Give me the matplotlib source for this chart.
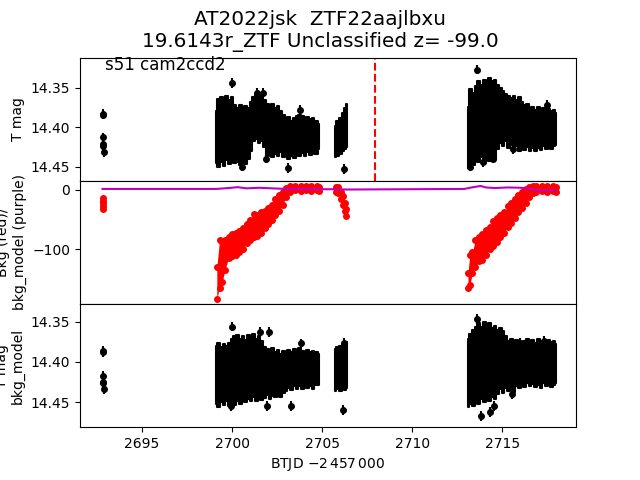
import matplotlib
matplotlib.use('Agg')
import matplotlib.pyplot as plt
import numpy as np

# --- light curve, T mag (top panel): band envelopes
t_a = [2692.80, 2692.80, 2692.82, 2692.83, 2692.85, 2692.86]
mag_a = [14.384, 14.383, 14.413, 14.421, 14.424, 14.432]

t_b = [2699.10, 2699.25, 2699.40, 2699.55, 2699.70, 2699.85, 2700.00, 2700.15,
       2700.30, 2700.45, 2700.60, 2700.75, 2700.90, 2701.05, 2701.20, 2701.35,
       2701.50, 2701.65, 2701.80, 2701.95, 2702.10, 2702.25, 2702.40, 2702.55,
       2702.70, 2702.85, 2703.00, 2703.15, 2703.30, 2703.45, 2703.60, 2703.75,
       2703.90, 2704.05, 2704.20, 2704.35, 2704.50, 2704.65, 2704.85]
top_b = [14.380, 14.364, 14.362, 14.366, 14.360, 14.366, 14.362, 14.372,
         14.376, 14.372, 14.377, 14.373, 14.376, 14.368, 14.362, 14.358,
         14.362, 14.360, 14.366, 14.370, 14.374, 14.371, 14.376, 14.373,
         14.379, 14.384, 14.390, 14.387, 14.392, 14.388, 14.386, 14.384,
         14.386, 14.389, 14.387, 14.390, 14.388, 14.392, 14.396]
bot_b = [14.446, 14.450, 14.444, 14.449, 14.442, 14.447, 14.440, 14.446,
         14.444, 14.448, 14.442, 14.447, 14.440, 14.430, 14.418, 14.415,
         14.420, 14.417, 14.425, 14.436, 14.432, 14.438, 14.434, 14.437,
         14.432, 14.438, 14.435, 14.440, 14.436, 14.439, 14.434, 14.437,
         14.433, 14.436, 14.432, 14.435, 14.431, 14.434, 14.428]

t_c = [2705.70, 2705.85, 2706.00, 2706.15, 2706.30, 2706.40]
top_c = [14.399, 14.392, 14.388, 14.382, 14.376, 14.370]
bot_c = [14.438, 14.436, 14.434, 14.430, 14.428, 14.425]

t_d = [2713.10, 2713.25, 2713.40, 2713.55, 2713.70, 2713.85, 2714.00, 2714.15,
       2714.30, 2714.45, 2714.60, 2714.75, 2714.90, 2715.05, 2715.20, 2715.35,
       2715.50, 2715.65, 2715.80, 2715.95, 2716.10, 2716.25, 2716.40, 2716.55,
       2716.70, 2716.85, 2717.00, 2717.15, 2717.30, 2717.45, 2717.60, 2717.75,
       2717.90, 2718.00]
top_d = [14.375, 14.352, 14.356, 14.348, 14.342, 14.346, 14.340, 14.344,
         14.338, 14.342, 14.340, 14.346, 14.350, 14.354, 14.358, 14.360,
         14.363, 14.360, 14.366, 14.362, 14.368, 14.372, 14.370, 14.376,
         14.374, 14.378, 14.375, 14.380, 14.376, 14.379, 14.377, 14.380,
         14.378, 14.382]
bot_d = [14.452, 14.446, 14.448, 14.440, 14.444, 14.438, 14.446, 14.436,
         14.443, 14.434, 14.440, 14.428, 14.420, 14.424, 14.418, 14.426,
         14.422, 14.428, 14.424, 14.430, 14.426, 14.429, 14.425, 14.430,
         14.426, 14.430, 14.426, 14.429, 14.424, 14.428, 14.425, 14.428,
         14.424, 14.422]

# isolated points outside the band (top panel)
t_out = [2699.97, 2701.40, 2701.70, 2703.76, 2700.55, 2701.90, 2703.10,
         2706.20, 2713.61, 2713.24, 2713.96, 2714.50, 2715.60, 2717.50]
mag_out = [14.344, 14.356, 14.356, 14.378, 14.450, 14.440, 14.452,
           14.453, 14.327, 14.450, 14.444, 14.440, 14.428, 14.372]

# --- T mag - bkg_model (bottom panel)
mag_a2 = [14.386, 14.388, 14.417, 14.425, 14.426, 14.434]

top_b2 = [14.380, 14.377, 14.381, 14.378, 14.380, 14.376, 14.372, 14.368,
          14.366, 14.372, 14.368, 14.373, 14.367, 14.370, 14.365, 14.372,
          14.368, 14.374, 14.381, 14.384, 14.387, 14.383, 14.388, 14.385,
          14.390, 14.386, 14.388, 14.385, 14.387, 14.384, 14.386, 14.383,
          14.386, 14.388, 14.385, 14.387, 14.386, 14.388, 14.390]
bot_b2 = [14.452, 14.456, 14.450, 14.454, 14.449, 14.455, 14.450, 14.453,
          14.448, 14.452, 14.447, 14.450, 14.446, 14.449, 14.444, 14.448,
          14.443, 14.447, 14.445, 14.441, 14.446, 14.442, 14.444, 14.440,
          14.443, 14.438, 14.436, 14.432, 14.435, 14.430, 14.434, 14.430,
          14.433, 14.429, 14.432, 14.430, 14.433, 14.429, 14.428]

top_c2 = [14.384, 14.382, 14.380, 14.378, 14.376, 14.375]
bot_c2 = [14.436, 14.434, 14.436, 14.433, 14.435, 14.432]

top_d2 = [14.372, 14.365, 14.360, 14.356, 14.352, 14.356, 14.350, 14.354,
          14.352, 14.358, 14.355, 14.360, 14.358, 14.362, 14.368, 14.374,
          14.372, 14.376, 14.373, 14.378, 14.375, 14.374, 14.372, 14.375,
          14.373, 14.376, 14.372, 14.375, 14.374, 14.376, 14.373, 14.375,
          14.374, 14.378]
bot_d2 = [14.456, 14.452, 14.455, 14.448, 14.452, 14.446, 14.450, 14.444,
          14.448, 14.444, 14.446, 14.440, 14.434, 14.438, 14.432, 14.436,
          14.433, 14.437, 14.430, 14.432, 14.428, 14.431, 14.426, 14.430,
          14.427, 14.431, 14.428, 14.432, 14.426, 14.430, 14.427, 14.431,
          14.428, 14.426]

t_out2 = [2700.00, 2701.55, 2702.05, 2703.80, 2699.95, 2701.95, 2703.25,
          2706.15, 2706.20, 2713.60, 2713.85, 2714.30, 2714.55, 2715.55,
          2716.00, 2717.30]
mag_out2 = [14.356, 14.363, 14.363, 14.377, 14.455, 14.455, 14.455,
            14.460, 14.376, 14.347, 14.467, 14.462, 14.455, 14.440,
            14.376, 14.374]

# --- background (middle panel): red band envelopes, purple model
bkg_t_a = [2692.80, 2692.81, 2692.82, 2692.84, 2692.85]
bkg_a = [-14, -18, -22, -27, -32]

bkg_t_b = [2699.15, 2699.30, 2699.45, 2699.60, 2699.80, 2700.00, 2700.20,
           2700.40, 2700.60, 2700.80, 2701.00, 2701.20, 2701.40, 2701.60,
           2701.80, 2702.00, 2702.20, 2702.40, 2702.60, 2702.80, 2703.00,
           2703.20, 2703.50, 2703.80, 2704.10, 2704.40, 2704.70, 2704.85]
bkg_lo_b = [-183, -165, -155, -135, -115, -112, -110, -105, -100, -90, -85,
            -80, -78, -72, -65, -58, -50, -42, -35, -25, -12, -3, -1, -2, -1,
            -2, -1, -2]
bkg_hi_b = [-130, -85, -88, -85, -80, -75, -73, -70, -65, -58, -50, -40,
            -42, -38, -35, -30, -25, -15, -8, -3, 3, 6, 6, 7, 6, 7, 6, 5]

bkg_t_c = [2705.75, 2705.90, 2706.05, 2706.15, 2706.25, 2706.35]
bkg_lo_c = [-4, -6, -15, -25, -35, -44]
bkg_hi_c = [5, 4, -3, -10, -22, -32]

bkg_t_d = [2713.10, 2713.20, 2713.35, 2713.50, 2713.70, 2713.90, 2714.10,
           2714.30, 2714.50, 2714.70, 2714.90, 2715.10, 2715.30, 2715.50,
           2715.70, 2715.90, 2716.10, 2716.30, 2716.50, 2716.70, 2716.90,
           2717.20, 2717.50, 2717.80, 2718.00]
bkg_lo_d = [-165, -160, -140, -130, -120, -118, -110, -100, -95, -88, -80,
            -72, -62, -55, -48, -38, -30, -22, -12, -5, -3, -2, -3, -2, -3]
bkg_hi_d = [-140, -110, -105, -85, -80, -75, -68, -62, -52, -48, -42, -38,
            -28, -22, -15, -8, -3, 2, 4, 6, 6, 7, 6, 7, 5]

model_t = [2692.8, 2699.1, 2699.8, 2700.3, 2700.8, 2701.5, 2702.2, 2703.0,
           2704.8, 2705.8, 2706.4, 2712.9, 2713.3, 2713.8, 2714.1, 2714.6,
           2715.3, 2716.0, 2716.6, 2716.9, 2718.0]
model_v = [1.5, 1.5, 3.0, 4.5, 2.5, 3.5, 2.5, 1.5, 1.0, 1.0, 0.5, 1.5, 4.0,
           6.5, 4.0, 3.0, 4.0, 3.5, 2.0, -1.0, -1.0]

t_explosion = 2707.95
mag_err = 0.006

fig, axes = plt.subplots(3, 1, sharex=True, figsize=(6.4, 4.8))
plt.subplots_adjust(hspace=0)

# top: T mag
ax = axes[0]
for t, top, bot in [(t_b, top_b, bot_b), (t_c, top_c, bot_c), (t_d, top_d, bot_d)]:
    ax.fill_between(t, top, bot, step='mid', color='k', lw=1.5)
ax.errorbar(t_a, mag_a, yerr=mag_err, fmt='ko', ms=4)
ax.errorbar(t_out, mag_out, yerr=mag_err, fmt='ko', ms=4)
ax.axvline(t_explosion, color='r', ls='--')
ax.set_ylim(14.468, 14.3117)
ax.set_ylabel('T mag')
ax.text(0.05, 0.9, 's51 cam2ccd2', transform=ax.transAxes, fontsize=12)

# middle: background
ax = axes[1]
for t, lo, hi in [(bkg_t_b, bkg_lo_b, bkg_hi_b), (bkg_t_c, bkg_lo_c, bkg_hi_c),
                  (bkg_t_d, bkg_lo_d, bkg_hi_d)]:
    ax.fill_between(t, lo, hi, color='r', lw=0)
    ax.plot(t, lo, 'ro', ms=4)
    ax.plot(t, hi, 'ro', ms=4)
ax.plot(bkg_t_a, bkg_a, 'ro', ms=4)
ax.plot(model_t, model_v, 'm-', lw=1.5)
ax.set_ylim(-192.2, 15.2)
ax.set_ylabel('Bkg (red)/\nbkg_model (purple)')

# bottom: T mag - bkg_model
ax = axes[2]
for t, top, bot in [(t_b, top_b2, bot_b2), (t_c, top_c2, bot_c2), (t_d, top_d2, bot_d2)]:
    ax.fill_between(t, top, bot, step='mid', color='k', lw=1.5)
ax.errorbar(t_a, mag_a2, yerr=mag_err, fmt='ko', ms=4)
ax.errorbar(t_out2, mag_out2, yerr=mag_err, fmt='ko', ms=4)
ax.set_ylim(14.481, 14.328)
ax.set_ylabel('T mag\nbkg_model')
ax.set_xlabel('BTJD $-2\\,457\\,000$')
ax.set_xlim(2691.55, 2719.1)

fig.suptitle('AT2022jsk  ZTF22aajlbxu\n19.6143r_ZTF Unclassified z= -99.0', fontsize=14.4)
plt.savefig('out.png', dpi=100)
